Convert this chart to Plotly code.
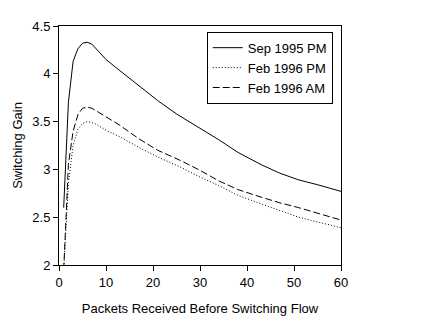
import plotly.graph_objects as go

# Packets received before the flow is switched
x_sep = [1, 2, 3, 4, 5, 6, 7, 8, 10, 12, 15, 18, 21, 25, 30, 34, 38, 43, 47, 51, 55, 60]
sep_1995_pm = [2.60, 3.70, 4.13, 4.26, 4.32, 4.33, 4.31, 4.26, 4.15, 4.07, 3.95, 3.84,
               3.72, 3.58, 3.43, 3.31, 3.18, 3.05, 2.96, 2.89, 2.84, 2.77]

x_feb = [1, 2, 3, 4, 5, 6, 7, 8, 10, 13, 17, 21, 26, 30, 34, 38, 43, 47, 51, 55, 60]
feb_1996_am = [1.95, 3.05, 3.40, 3.57, 3.64, 3.65, 3.64, 3.61, 3.55, 3.46, 3.32, 3.20,
               3.09, 2.99, 2.88, 2.79, 2.71, 2.65, 2.60, 2.54, 2.47]
feb_1996_pm = [1.95, 2.85, 3.25, 3.42, 3.48, 3.50, 3.49, 3.47, 3.41, 3.34, 3.23, 3.13,
               3.02, 2.92, 2.83, 2.73, 2.64, 2.57, 2.50, 2.45, 2.39]

x_ticks = [0, 10, 20, 30, 40, 50, 60]
y_ticks = [2, 2.5, 3, 3.5, 4, 4.5]

FONT = "Liberation Sans, Arial, sans-serif"

fig = go.Figure()
fig.add_trace(go.Scatter(x=x_sep, y=sep_1995_pm, mode="lines", name="Sep 1995 PM",
                         line=dict(color="black", width=1)))
fig.add_trace(go.Scatter(x=x_feb, y=feb_1996_pm, mode="lines", name="Feb 1996 PM",
                         line=dict(color="black", width=1, dash="1px,2px")))
fig.add_trace(go.Scatter(x=x_feb, y=feb_1996_am, mode="lines", name="Feb 1996 AM",
                         line=dict(color="black", width=1, dash="7px,3px")))

axis_common = dict(
    showgrid=False, zeroline=False, showline=True, linecolor="black", linewidth=1,
    mirror=True, ticks="outside", ticklen=5, tickcolor="black", tickwidth=1,
    tickfont=dict(family=FONT, size=13, color="black"),
)

fig.update_xaxes(range=[0, 60], tickvals=x_ticks, ticktext=[str(v) for v in x_ticks],
                 title=dict(text="Packets Received Before Switching Flow",
                            font=dict(family=FONT, size=13, color="black")),
                 **axis_common)
fig.update_yaxes(range=[2, 4.5], tickvals=y_ticks, ticktext=[f"{v:g}" for v in y_ticks],
                 title=dict(text="Switching Gain", standoff=6,
                            font=dict(family=FONT, size=13, color="black")),
                 **axis_common)

fig.update_layout(
    width=438, height=325,
    margin=dict(l=59, r=97, t=26, b=60),
    paper_bgcolor="white", plot_bgcolor="white",
    font=dict(family=FONT, size=13, color="black"),
    legend=dict(x=0.524, y=0.976, xanchor="left", yanchor="top",
                bordercolor="black", borderwidth=1, bgcolor="white",
                font=dict(family=FONT, size=13, color="black")),
)

fig.write_html("out.html")
